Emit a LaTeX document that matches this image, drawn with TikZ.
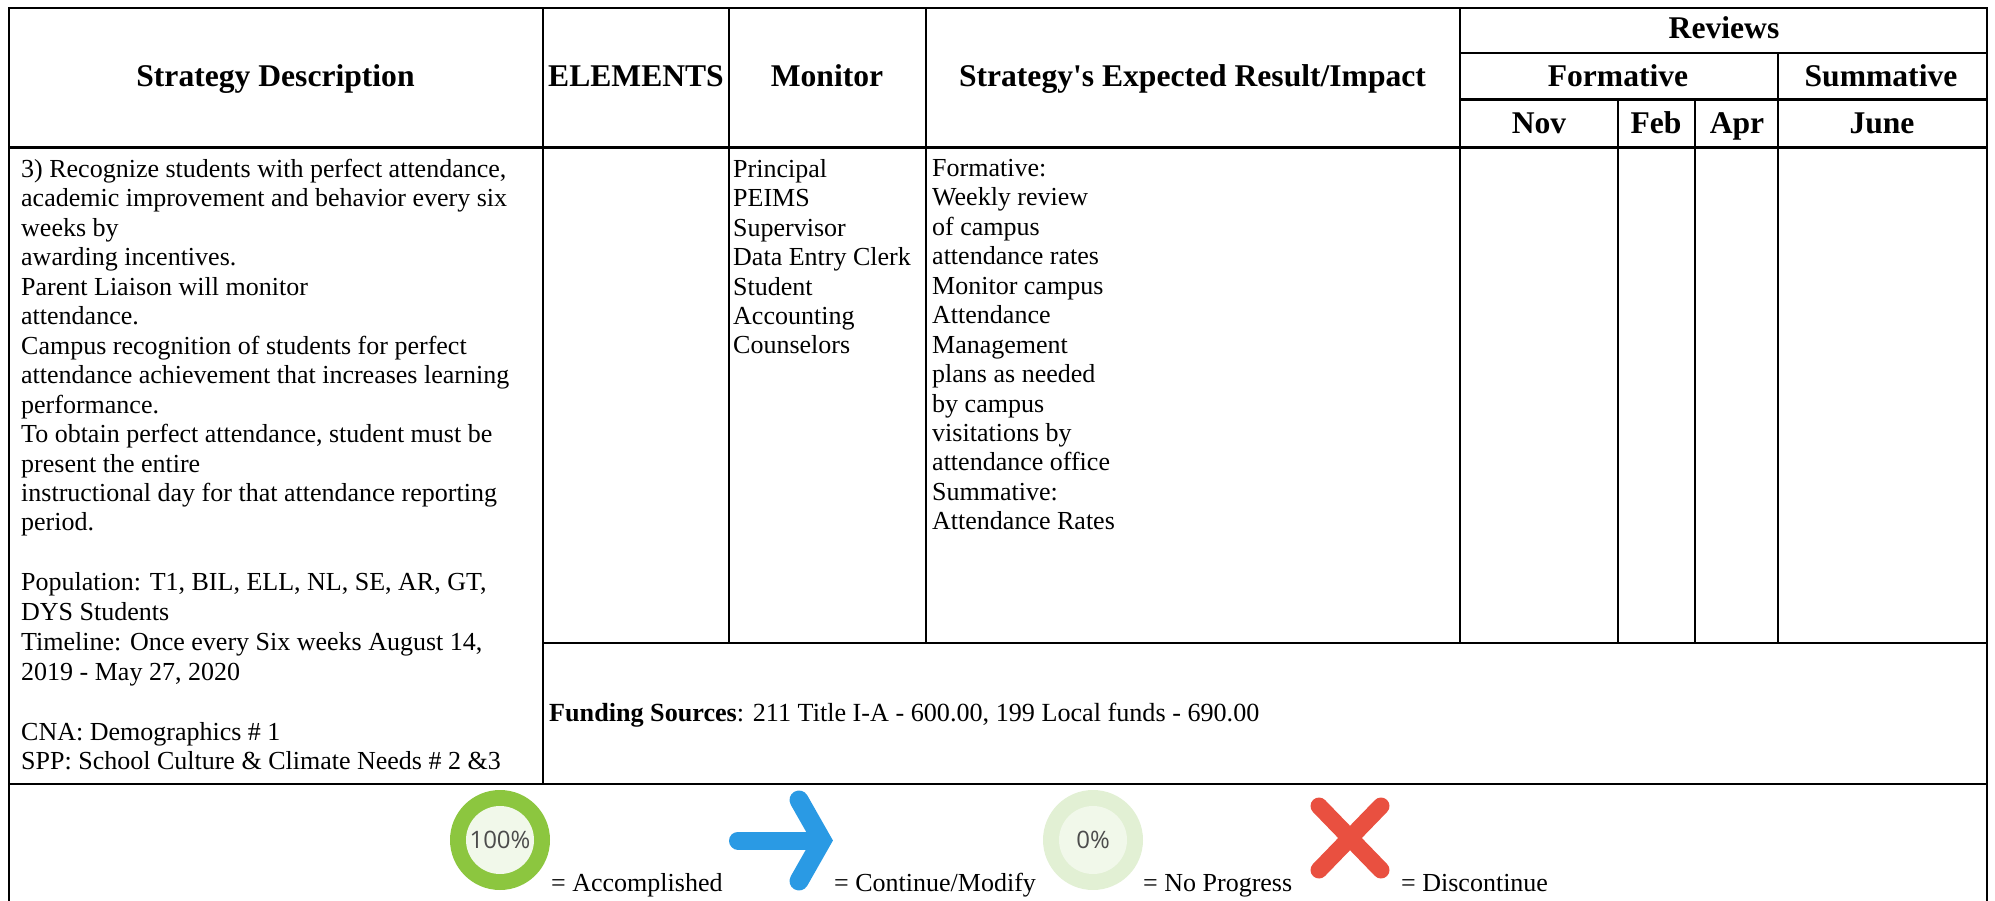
\documentclass[tikz,border=0pt]{standalone}
\usepackage{fontspec}
\setmainfont{Liberation Serif}[Ligatures=TeXOff]
\newfontfamily\iconfont{Open Sans}
\definecolor{gA}{HTML}{8CC63F}
\definecolor{gIn}{HTML}{F1F8EA}
\definecolor{gB}{HTML}{E2F0D4}
\definecolor{blA}{HTML}{2A9AE4}
\definecolor{rX}{HTML}{E95040}
\tikzset{
  x=1pt,y=-1pt,
  grid/.style={draw=black,line width=2.4pt},
  thin grid/.style={draw=black,line width=1.9pt},
  head/.style={font=\bfseries\fontsize{31.6}{36}\selectfont,inner sep=0pt,anchor=base},
  body/.style={font=\fontsize{26}{29.45}\selectfont,inner sep=0pt,anchor=north west,align=left},
  key/.style={font=\fontsize{26}{29}\selectfont,inner sep=0pt,anchor=base west},
  fundkey/.style={font=\fontsize{26.15}{29}\selectfont,inner sep=0pt,anchor=base west},
  pct/.style={font=\iconfont\fontsize{24}{28}\selectfont,text=black!70,inner sep=0pt}
}
\begin{document}
\begin{tikzpicture}
\useasboundingbox (0,0) rectangle (1995,901);
% table rules
\draw[grid] (9,901) -- (9,8) -- (1987,8) -- (1987,901);
\draw[grid] (9,147.5) -- (1987,147.5);
\draw[grid] (9,784) -- (1987,784);
\draw[grid] (543,8) -- (543,784);
\draw[grid] (729,8) -- (729,643);
\draw[grid] (926,8) -- (926,643);
\draw[grid] (1460,8) -- (1460,643);
\draw[grid] (543,643) -- (1987,643);
\draw[grid] (1460,53) -- (1987,53);
\draw[grid] (1460,99.5) -- (1987,99.5);
\draw[thin grid] (1778,53) -- (1778,643);
\draw[thin grid] (1618,99.5) -- (1618,643);
\draw[thin grid] (1695,99.5) -- (1695,643);
% header
\node[head] (hstrat) at (275.5,87) {Strategy Description};
\node[head] (helem) at (636,87) {ELEMENTS};
\node[head] (hmon) at (827,87) {Monitor};
\node[head] (hres) at (1192.5,87) {Strategy's Expected Result/Impact};
\node[head] (hrev) at (1724,39) {Reviews};
\node[head] (hform) at (1618,87) {Formative};
\node[head] (hsum) at (1881,87) {Summative};
\node[head] (hnov) at (1539,134) {Nov};
\node[head] (hfeb) at (1656,134) {Feb};
\node[head] (hapr) at (1737,134) {Apr};
\node[head] (hjun) at (1882,134) {June};
% body
\node[body] (strat) at (21,159) {3) Recognize students with perfect attendance,\\
academic improvement and behavior every six\\
weeks by\\
awarding incentives.\\
Parent Liaison will monitor\\
attendance.\\
Campus recognition of students for perfect\\
attendance achievement that increases learning\\
performance.\\
To obtain perfect attendance, student must be\\
present the entire\\
instructional day for that attendance reporting\\
period.\\[30.5pt]
Population: T1, BIL, ELL, NL, SE, AR, GT,\\
DYS Students\\[1pt]
Timeline: Once every Six weeks August 14,\\
2019 - May 27, 2020\\[30.5pt]
CNA: Demographics \# 1\\
SPP: School Culture \& Climate Needs \# 2 \&3};
\node[body] (mon) at (733,159) {Principal\\PEIMS\\Supervisor\\Data Entry Clerk\\Student\\Accounting\\Counselors};
\node[body] (res) at (932,159) {Formative:\\Weekly review\\of campus\\attendance rates\\Monitor campus\\Attendance\\Management\\plans as needed\\by campus\\visitations by\\attendance office\\Summative:\\Attendance Rates};
\node[fundkey] (fund) at (549,721) {\textbf{Funding Sources}: 211 Title I-A - 600.00, 199 Local funds - 690.00};
% legend icons
\fill[gA] (500,840) circle[radius=50];
\fill[gIn] (500,840) circle[radius=34];
\node[pct] (p100) at (500,840) {100\%};
\coordinate (ashaft) at (738,840.5);
\coordinate (atip) at (822,840.5);
\coordinate (atop) at (799,800);
\coordinate (abot) at (799,881);
\draw[blA,line width=18pt,line cap=round] (ashaft) -- (atip);
\draw[blA,line width=19pt,line cap=round,line join=miter] (atop) -- (atip) -- (abot);
\fill[gB] (1093,840) circle[radius=50];
\fill[gIn] (1093,840) circle[radius=34];
\node[pct] (p0) at (1093,840) {0\%};
\coordinate (xa) at (1319,806);
\coordinate (xb) at (1381,870);
\coordinate (xc) at (1381,806);
\coordinate (xd) at (1319,870);
\draw[rX,line width=17pt,line cap=round] (xa) -- (xb);
\draw[rX,line width=17pt,line cap=round] (xc) -- (xd);
\node[key] (kacc) at (551,891) {= Accomplished};
\node[key] (kcon) at (834,891) {= Continue/Modify};
\node[key] (knop) at (1143,891) {= No Progress};
\node[key] (kdis) at (1401,891) {= Discontinue};
\end{tikzpicture}
\end{document}
